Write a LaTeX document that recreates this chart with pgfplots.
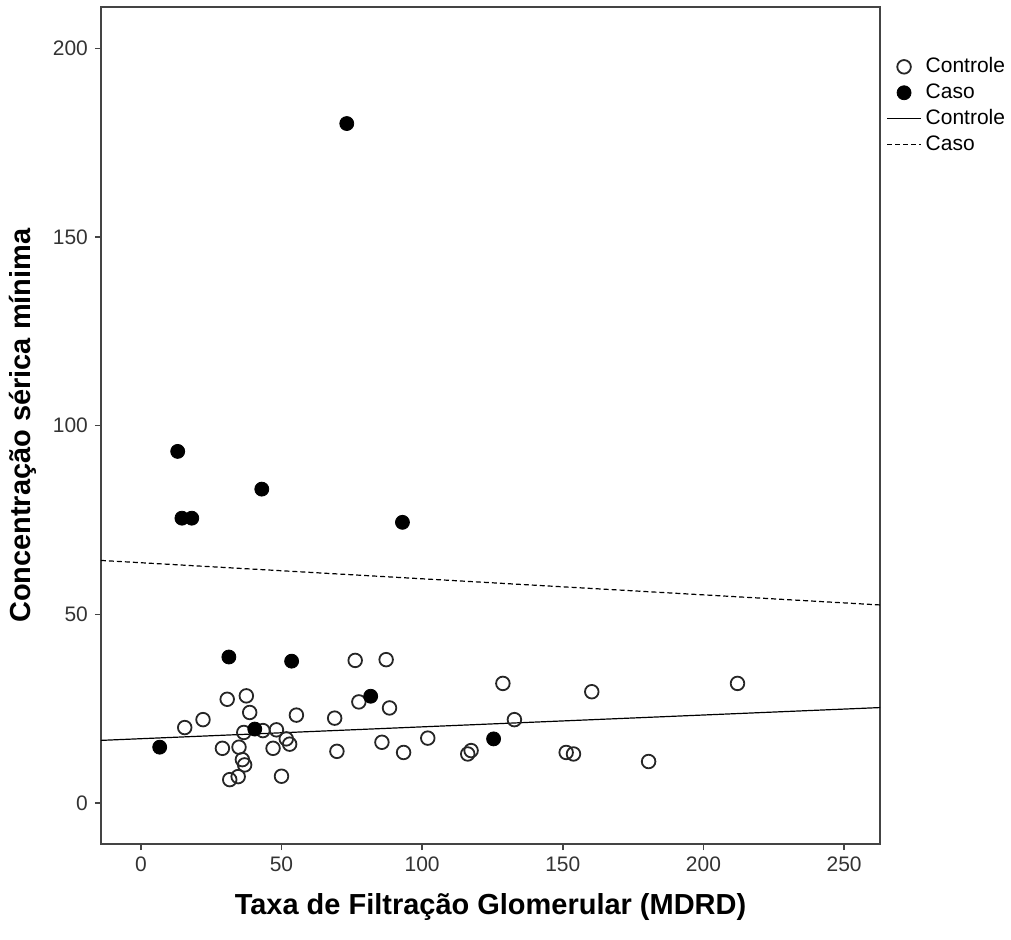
\documentclass[border=0pt]{standalone}
\usepackage{pgfplots}
\pgfplotsset{compat=1.18}
\usepackage{fontspec}
\setmainfont{Liberation Sans}
\definecolor{axgray}{HTML}{444444}

\begin{document}
\begin{tikzpicture}
\begin{axis}[scale only axis,width=390pt,height=419pt,
  xmin=-14.2,xmax=262.8,ymin=-10.9,ymax=211,
  xtick={0,50,...,250},ytick={0,50,...,200},
  tick align=outside,major tick length=3pt,
  xtick pos=bottom,ytick pos=left,
  axis line style={axgray,line width=0.9pt},
  tick style={axgray,line width=0.7pt},
  tick label style={font=\fontsize{10.5}{12}\selectfont,text=black!80},
  /pgf/number format/assume math mode=true,
  xlabel={\textbf{Taxa de Filtração Glomerular (MDRD)}},
  ylabel={\textbf{Concentração sérica mínima}},
  label style={font=\fontsize{14.5}{16}\selectfont},
  xlabel style={yshift=-4pt},
  ylabel style={yshift=1.5pt},
  legend style={font=\fontsize{10.5}{12}\selectfont,draw=none,fill=none,
    at={(1.005,0.947)},anchor=north west,row sep=0pt,inner sep=1pt},
  legend cell align=left,
  clip=true]
% Controle (open circles)
\addplot[only marks,mark=o,mark size=3.4pt,mark options={line width=0.9pt,black!85}] coordinates {
(76.2,37.8) (87.2,38.0) (30.7,27.5) (37.5,28.4) (38.7,24.0) (15.6,20.0)
(22.1,22.1) (55.3,23.3) (68.9,22.5) (77.5,26.8) (88.4,25.2) (36.6,18.7)
(43.4,19.2) (48.2,19.4) (51.7,17.0) (52.9,15.6) (29.0,14.5) (34.9,14.8)
(47.0,14.5) (69.7,13.7) (85.7,16.1) (93.4,13.4) (36.1,11.5) (36.9,10.1)
(31.6,6.2) (34.6,7.0) (50.0,7.1) (128.7,31.7) (160.3,29.5) (212.1,31.7)
(132.8,22.1) (102.0,17.2) (116.2,13.0) (117.4,13.9) (151.2,13.4)
(153.8,13.0) (180.5,11.0)};
\addlegendentry{Controle}
% Caso (filled circles)
\addplot[only marks,mark=*,mark size=3.5pt,mark options={black}] coordinates {
(73.2,180.1) (13.1,93.2) (14.6,75.5) (18.1,75.5) (43.0,83.2) (93.0,74.4)
(31.3,38.7) (53.6,37.6) (81.7,28.3) (40.5,19.6) (6.7,14.8) (125.4,17.0)};
\addlegendentry{Caso}
% fit lines
\addplot[black,line width=0.6pt] coordinates {(-14.2,16.6) (262.8,25.3)};
\addlegendentry{Controle}
\addplot[black,line width=0.6pt,dash pattern=on 2.5pt off 1.5pt] coordinates {(-14.2,64.3) (262.8,52.5)};
\addlegendentry{Caso}
\end{axis}
\path (current axis.south west) ++(-50.5pt,-47.5pt) rectangle ++(505.5pt,470pt);
\end{tikzpicture}
\end{document}
